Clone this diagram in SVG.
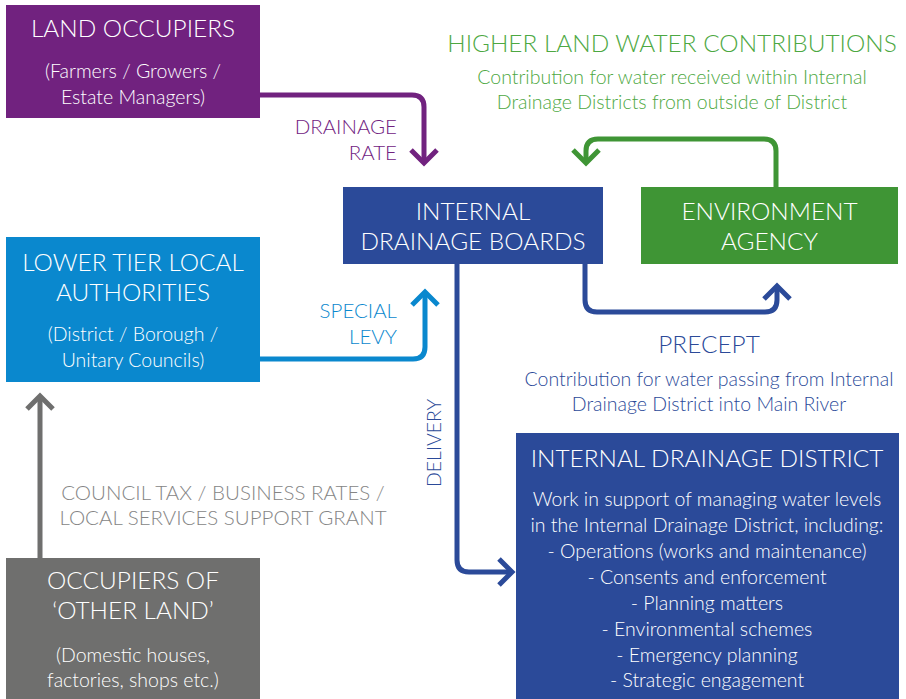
<svg xmlns="http://www.w3.org/2000/svg" width="906" height="699" viewBox="0 0 906 699">
<style>
text{font-family:Lato,"Open Sans","Liberation Sans",sans-serif;font-weight:300;text-anchor:middle}
.t{font-size:24.4px;fill:#fff}
.s{font-size:19.5px;fill:#fff}
.lbl{font-size:20.5px}
.conn path{fill:none;stroke-width:5;stroke-linecap:butt;stroke-linejoin:miter}
</style>
<rect width="906" height="699" fill="#fff"/>
<g id="land-occupiers">
<rect x="6" y="5" width="254" height="113" fill="#71227F"/>
<text class="t" x="133" y="37">LAND OCCUPIERS</text>
<text class="s" x="133" y="78">(Farmers / Growers /</text>
<text class="s" x="133" y="104">Estate Managers)</text>
</g>
<g id="lower-tier">
<rect x="6" y="237" width="254" height="145" fill="#0A88CE"/>
<text class="t" x="133" y="271">LOWER TIER LOCAL</text>
<text class="t" x="133" y="301">AUTHORITIES</text>
<text class="s" x="133" y="341">(District / Borough /</text>
<text class="s" x="133" y="367">Unitary Councils)</text>
</g>
<g id="other-land">
<rect x="6" y="558" width="254" height="141" fill="#6F6F6E"/>
<text class="t" x="133" y="589">OCCUPIERS OF</text>
<text class="t" x="133" y="619">‘OTHER LAND’</text>
<text class="s" x="133" y="662">(Domestic houses,</text>
<text class="s" x="133" y="687">factories, shops etc.)</text>
</g>
<g id="idb">
<rect x="343" y="187" width="260" height="77" fill="#2B4A99"/>
<text class="t" x="473" y="220">INTERNAL</text>
<text class="t" x="473" y="250">DRAINAGE BOARDS</text>
</g>
<g id="ea">
<rect x="641" y="187" width="257" height="77" fill="#3F9535"/>
<text class="t" x="769.5" y="220">ENVIRONMENT</text>
<text class="t" x="769.5" y="250">AGENCY</text>
</g>
<g id="idd">
<rect x="516" y="433" width="383" height="266" fill="#2B4A99"/>
<text class="t" x="707" y="467">INTERNAL DRAINAGE DISTRICT</text>
<text class="s" x="707" y="506">Work in support of managing water levels</text>
<text class="s" x="707" y="532">in the Internal Drainage District, including:</text>
<text class="s" x="707" y="558">- Operations (works and maintenance)</text>
<text class="s" x="707" y="584">- Consents and enforcement</text>
<text class="s" x="707" y="610">- Planning matters</text>
<text class="s" x="707" y="636">- Environmental schemes</text>
<text class="s" x="707" y="662">- Emergency planning</text>
<text class="s" x="707" y="687">- Strategic engagement</text>
</g>
<g id="connectors" class="conn">
<path d="M260,95 H412 Q424,95 424,107 V163" stroke="#71227F"/>
<path d="M411,150 L424,163 L437,150" stroke="#71227F"/>
<path d="M776,187 V151 Q776,139 764,139 H598 Q586,139 586,151 V163" stroke="#3F9535"/>
<path d="M573,150 L586,163 L599,150" stroke="#3F9535"/>
<path d="M585,264 V300 Q585,312 597,312 H765 Q777,312 777,300 V286" stroke="#2B4A99"/>
<path d="M764,299 L777,286 L790,299" stroke="#2B4A99"/>
<path d="M260,359 H413 Q425,359 425,347 V292" stroke="#0A88CE"/>
<path d="M412,305 L425,292 L438,305" stroke="#0A88CE"/>
<path d="M457,264 V560 Q457,572 469,572 H512" stroke="#2B4A99"/>
<path d="M499,559 L512,572 L499,585" stroke="#2B4A99"/>
<path d="M40,558 V396" stroke="#6F6F6E"/>
<path d="M27,409 L40,396 L53,409" stroke="#6F6F6E"/>
</g>
<g id="labels">
<text class="lbl" x="397" y="134" fill="#71227F" style="text-anchor:end">DRAINAGE</text>
<text class="lbl" x="397" y="160" fill="#71227F" style="text-anchor:end">RATE</text>
<text class="lbl" x="397" y="318" fill="#0A88CE" style="text-anchor:end">SPECIAL</text>
<text class="lbl" x="397" y="344" fill="#0A88CE" style="text-anchor:end">LEVY</text>
<text x="0" y="0" fill="#2B4A99" style="font-size:19.5px" transform="translate(441,443) rotate(-90)">DELIVERY</text>
<text class="t" x="672" y="52" style="fill:#4DA842">HIGHER LAND WATER CONTRIBUTIONS</text>
<text class="s" x="672" y="84" style="fill:#4DA842">Contribution for water received within Internal</text>
<text class="s" x="672" y="109" style="fill:#4DA842">Drainage Districts from outside of District</text>
<text class="t" x="709" y="353" style="fill:#2B4A99">PRECEPT</text>
<text class="s" x="709" y="386" style="fill:#2B4A99">Contribution for water passing from Internal</text>
<text class="s" x="709" y="411" style="fill:#2B4A99">Drainage District into Main River</text>
<text class="lbl" x="223" y="500" fill="#858585">COUNCIL TAX / BUSINESS RATES /</text>
<text class="lbl" x="223" y="525" fill="#858585">LOCAL SERVICES SUPPORT GRANT</text>
</g>
</svg>
